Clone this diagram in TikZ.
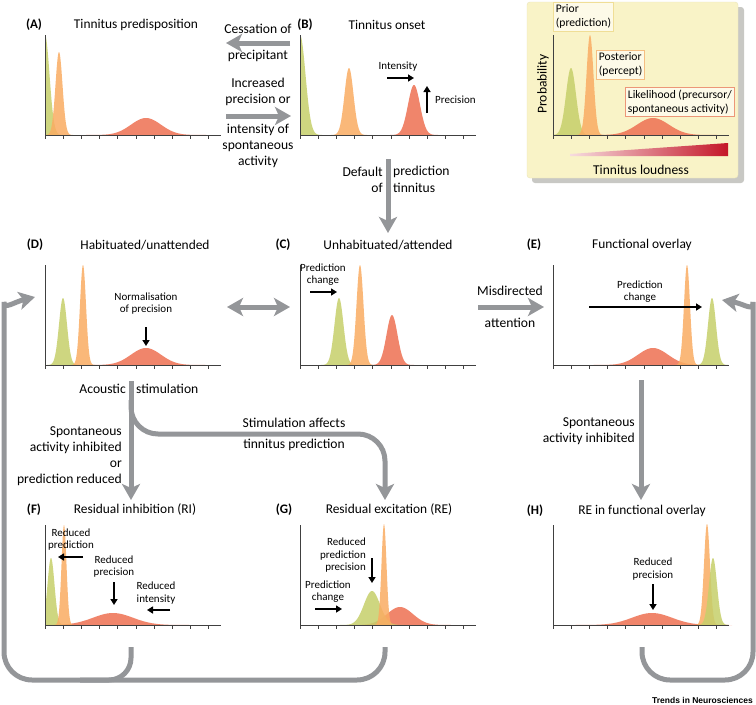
\documentclass[tikz,border=0pt]{standalone}
\usepackage{fontspec}
\setmainfont{Carlito}
\newfontfamily\journalfont{Liberation Sans}
\usetikzlibrary{arrows.meta}

\definecolor{priorgreen}{RGB}{198,207,106}
\definecolor{postorange}{RGB}{250,172,98}
\definecolor{likered}{RGB}{238,112,82}
\definecolor{flowgrey}{RGB}{148,150,153}
\definecolor{legendyellow}{RGB}{249,243,199}
\definecolor{legendshadow}{RGB}{200,200,196}
\definecolor{loudred}{RGB}{196,22,40}
\definecolor{keyfill}{RGB}{253,250,232}
\definecolor{priorbox}{RGB}{240,222,150}
\definecolor{posteriorbox}{RGB}{245,190,130}
\definecolor{likelihoodbox}{RGB}{236,150,120}

\tikzset{
  axisline/.style={line width=1pt, color=black!75},
  flowarrow/.style={draw=flowgrey, line width=5pt, -{Stealth[length=16pt,width=18pt,inset=4pt]}},
  flowline/.style={draw=flowgrey, line width=5pt},
  markarrow/.style={line width=2pt, -{Triangle[length=6pt,width=7pt]}},
  paneltitle/.style={font=\fontsize{13.4}{15}\selectfont, inner sep=0pt},
  panelletter/.style={font=\fontsize{13}{15}\selectfont\bfseries, inner sep=0pt},
  flowtext/.style={font=\fontsize{13.6}{16}\selectfont, inner sep=0pt, align=center},
  smalltext/.style={font=\fontsize{11}{12.5}\selectfont, inner sep=0pt, align=center},
  keybox/.style={fill=keyfill, line width=0.9pt, inner sep=2.5pt, align=left, anchor=north west, font=\fontsize{11.6}{14}\selectfont},
}

% axes with ten ticks: \axes(x0,y0)
\def\axes(#1,#2){\draw[axisline] (#1,#2-100) -- (#1,#2) -- (#1+176,#2);
  \foreach \k in {0,...,9} \draw[axisline] (#1+18.2*\k,#2) -- (#1+18.2*\k,#2+4);}
% bell curve: \gauss[colour](y0,mu,sigma,height,xmin)
\def\gauss[#1](#2,#3,#4,#5,#6){%
  \pgfmathsetmacro{\gaussl}{max(#6,#3-4*#4)}%
  \pgfmathsetmacro{\gaussr}{#3+4*#4}%
  \fill[#1, opacity=.85] (\gaussl,#2) -- plot[domain=\gaussl:\gaussr, samples=70] (\x,{#2-#5*exp(-((\x-#3)^2)/(2*#4*#4))}) -- (\gaussr,#2) -- cycle;}

\begin{document}
\begin{tikzpicture}[x=1pt,y=-1pt]
		%%%%% START %%%%%
		\fill[white] (0,0) rectangle (756,705);
		\useasboundingbox (0,0) rectangle (756,705);
		
		%%%%% legend %%%%%
		\fill[legendshadow, rounded corners=3pt] (532,7) rectangle (744,183);
		\draw[legendyellow!80!black!30!legendyellow, fill=legendyellow, rounded corners=3pt] (527,2) rectangle (738,178);
		\gauss[likered](135,653,16,17,553)
		\gauss[priorgreen](135,571,5,67,553)
		\gauss[postorange](135,590,3.5,100,553)
		\axes(553,135)
		\shade[left color=loudred!15, right color=loudred] (570,154) -- (728,143) -- (728,156) -- (570,156) -- cycle;
		\node[font=\fontsize{13.5}{15}\selectfont, rotate=90, inner sep=0pt] (probability) at (543,84) {Probability};
		\node[font=\fontsize{13.5}{15}\selectfont, inner sep=0pt] (loudness) at (641,170) {Tinnitus loudness};
		\node[keybox, draw=priorbox] (prior) at (553,2) {Prior\\(prediction)};
		\node[keybox, draw=posteriorbox] (posterior) at (596,50) {Posterior\\(percept)};
		\node[keybox, draw=likelihoodbox] (likelihood) at (625,87) {Likelihood (precursor/\\spontaneous activity)};
		
		%%%%% (A) %%%%%
		\gauss[likered](135,146,15,17,45)
		\gauss[priorgreen](135,45,4.5,100,45)
		\gauss[postorange](135,59,3.5,83,45)
		\axes(45,135)
		\node[panelletter] (letA) at (34,25) {(A)};
		\node[paneltitle] (titleA) at (136,25) {Tinnitus predisposition};
		
		%%%%% (B) %%%%%
		\gauss[likered](135,414,6,50,300)
		\gauss[priorgreen](135,300,5.5,100,300)
		\gauss[postorange](135,349,4.5,67,300)
		\axes(300,135)
		\node[panelletter] (letB) at (305,25) {(B)};
		\node[paneltitle] (titleB) at (387,25) {Tinnitus onset};
		\node[smalltext] (intensityB) at (398,67) {Intensity};
		\draw[markarrow] (387,78) -- (414,78);
		\node[smalltext, anchor=west] (precisionB) at (435,100) {Precision};
		\draw[markarrow] (427,113) -- (427,86);
		
		%%%%% (D) %%%%%
		\gauss[likered](365,146,15,17,45)
		\gauss[priorgreen](365,63,4,67,45)
		\gauss[postorange](365,83,3,100,45)
		\axes(45,365)
		\node[panelletter] (letD) at (35,245) {(D)};
		\node[paneltitle] (titleD) at (145,245) {Habituated/unattended};
		\node[smalltext] (normD) at (146,303.5) {Normalisation\\of precision};
		\draw[markarrow] (146,327) -- (146,346);
		
		%%%%% (C) %%%%%
		\gauss[likered](365,392,5.5,50,300)
		\gauss[priorgreen](365,339,4.5,67,300)
		\gauss[postorange](365,360,3.5,100,300)
		\axes(300,365)
		\node[panelletter] (letC) at (283,245) {(C)};
		\node[paneltitle] (titleC) at (388,245) {Unhabituated/attended};
		\node[smalltext] (changeC) at (323,274.5) {Prediction\\change};
		\draw[markarrow] (310,292) -- (337,292);
		
		%%%%% (E) %%%%%
		\gauss[likered](365,653,15,17,553)
		\gauss[priorgreen](365,712,4,67,553)
		\gauss[postorange](365,687,3,100,553)
		\axes(553,365)
		\node[panelletter] (letE) at (534,245) {(E)};
		\node[paneltitle] (titleE) at (642,245) {Functional overlay};
		\node[smalltext] (changeE) at (640,291.5) {Prediction\\change};
		\draw[markarrow] (589,307) -- (702,307);
		
		%%%%% (F) %%%%%
		\gauss[likered](625,113,20,12,45)
		\gauss[priorgreen](625,51,3.5,67,45)
		\gauss[postorange](625,64,2.5,100,45)
		\axes(45,625)
		\node[panelletter] (letF) at (34,510) {(F)};
		\node[paneltitle] (titleF) at (135,510) {Residual inhibition (RI)};
		\node[smalltext] (predF) at (71,539.5) {Reduced\\prediction};
		\draw[markarrow] (83,557) -- (58,557);
		\node[smalltext] (precF) at (114,566.5) {Reduced\\precision};
		\draw[markarrow] (114,582) -- (114,605);
		\node[smalltext] (intF) at (156,593) {Reduced\\intensity};
		\draw[markarrow] (170,610) -- (147,610);
		
		%%%%% (G) %%%%%
		\gauss[likered](625,400,13,18,300)
		\gauss[priorgreen](625,372,8,34,300)
		\gauss[postorange](625,384,2.5,101,300)
		\axes(300,625)
		\node[panelletter] (letG) at (284,510) {(G)};
		\node[paneltitle] (titleG) at (389,510) {Residual excitation (RE)};
		\node[smalltext, align=right, anchor=east] (precG) at (366,555.5) {Reduced\\prediction\\precision};
		\draw[markarrow] (372,558) -- (372,583);
		\node[smalltext] (changeG) at (328,591.5) {Prediction\\change};
		\draw[markarrow] (315,609) -- (342,609);
		
		%%%%% (H) %%%%%
		\gauss[likered](625,652,20,12,553)
		\gauss[postorange](625,707,3,101,553)
		\gauss[priorgreen](625,713,4,67,553)
		\axes(553,625)
		\node[panelletter] (letH) at (535,511) {(H)};
		\node[paneltitle] (titleH) at (642,511) {RE in functional overlay};
		\node[smalltext] (precH) at (653,569) {Reduced\\precision};
		\draw[markarrow] (653,584) -- (653,610);
		
		%%%%% flow between panels %%%%%
		\coordinate (bBack) at (290,43);
		\coordinate (aFront) at (226,43);
		\coordinate (aOut) at (226,116);
		\coordinate (bIn) at (291,116);
		\coordinate (bDown) at (388,159);
		\coordinate (cTop) at (388,233);
		\coordinate (dSide) at (227,307);
		\coordinate (cSide) at (290,307);
		\coordinate (cOut) at (478,307);
		\coordinate (eIn) at (544,307);
		\coordinate (dDown) at (131,381);
		\coordinate (fTop) at (131,500);
		\coordinate (gTop) at (385,500);
		\coordinate (eDown) at (641,380);
		\coordinate (hTop) at (641,500);
		\coordinate (fOut) at (131,647);
		\coordinate (gOut) at (385,647);
		\coordinate (hOut) at (642,647);
		\coordinate (dBack) at (35,297);
		\coordinate (eBack) at (722,300);
		
		\draw[flowarrow] (bBack) -- (aFront);
		\node[flowtext] (cessation) at (258,29) {Cessation of};
		\node[flowtext] (precipitant) at (258,56) {precipitant};
		\draw[flowarrow] (aOut) -- (bIn);
		\node[flowtext] (increased) at (258,92) {Increased\\precision or};
		\node[flowtext] (spontAB) at (258,146) {intensity of\\spontaneous\\activity};
		
		\draw[flowarrow] (bDown) -- (cTop);
		\node[flowtext, anchor=east] (default) at (383,172) {Default};
		\node[flowtext, anchor=east] (of) at (383,188) {of};
		\node[flowtext, anchor=west] (prediction) at (393,172) {prediction};
		\node[flowtext, anchor=west] (tinnitus) at (393,188) {tinnitus};
		
		\draw[flowarrow, {Stealth[length=16pt,width=18pt,inset=4pt]}-{Stealth[length=16pt,width=18pt,inset=4pt]}] (dSide) -- (cSide);
		\draw[flowarrow] (cOut) -- (eIn);
		\node[flowtext] (misdirected) at (510,291) {Misdirected};
		\node[flowtext] (attention) at (510,323) {attention};
		
		\node[flowtext, anchor=east] (acoustic) at (126,389) {Acoustic};
		\node[flowtext, anchor=west] (stimulation) at (136,389) {stimulation};
		\draw[flowarrow] (dDown) -- (fTop);
		\draw[flowarrow, rounded corners=27pt] (131,400) -- (131,434) -- (385,434) -- (gTop);
		\node[flowtext, align=right, anchor=east] (inhibF) at (122,456.5) {Spontaneous\\activity inhibited\\or\\prediction reduced};
		\node[flowtext] (affects) at (294,423) {Stimulation affects};
		\node[flowtext] (tinnpred) at (294,445) {tinnitus prediction};
		
		\draw[flowarrow] (eDown) -- (hTop);
		\node[flowtext, align=right, anchor=east] (inhibH) at (635,431) {Spontaneous\\activity inhibited};
		
		\draw[flowarrow, rounded corners=28pt] (gOut) -- (385,680) -- (4,680) -- (4,330) .. controls (4,310) and (14,302) .. (dBack);
		\draw[flowline, rounded corners=22pt] (fOut) -- (131,680) -- (80,680);
		\draw[flowarrow, rounded corners=28pt] (hOut) -- (642,680) -- (753,680) -- (753,330) .. controls (753,312) and (745,304) .. (eBack);
		
		\node[font=\journalfont\bfseries\fontsize{8.5}{10}\selectfont, anchor=east, inner sep=0pt] (journal) at (753,700) {Trends in Neurosciences};
		%%%%% END %%%%%
\end{tikzpicture}
\end{document}
